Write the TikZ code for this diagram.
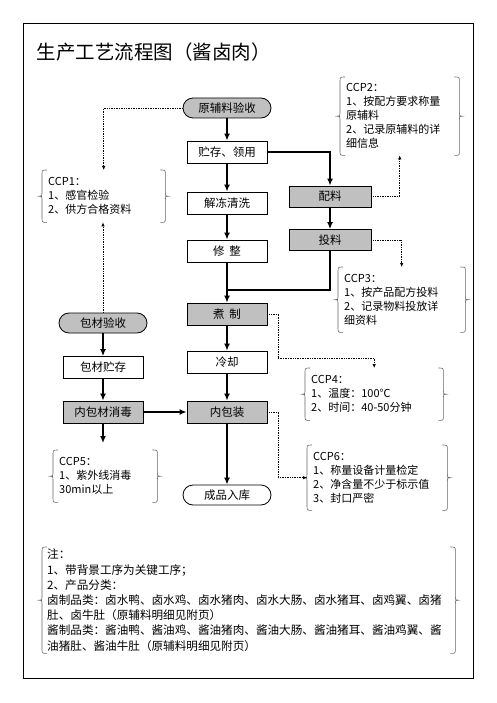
\documentclass[tikz,border=0pt]{standalone}
\usepackage{fontspec}
\setmainfont{Noto Sans CJK SC}
\usetikzlibrary{calc,arrows.meta}
\definecolor{keygray}{RGB}{192,192,192}

\begin{document}
\begin{tikzpicture}[x=1pt,y=-1pt]
	\tikzstyle{proc}=[draw,line width=0.8pt,minimum width=80pt,minimum height=22pt,inner sep=0pt,font=\fontsize{11.5}{12}\selectfont]
	\tikzstyle{key}=[proc,fill=keygray]
	\tikzstyle{term}=[proc,rounded corners=10pt,minimum width=88pt,minimum height=20pt]
	\tikzstyle{ccp}=[anchor=north west,align=left,inner xsep=6pt,inner ysep=0pt,font=\fontsize{11}{14}\selectfont]
	\tikzstyle{flow}=[line width=1.8pt,-{Latex[length=7pt,width=6pt]}]
	\tikzstyle{link}=[line width=0.7pt,densely dotted,-{Latex[length=4pt,width=3.5pt]}]
	\tikzstyle{brline}=[line width=0.6pt,draw=black!60]

	\useasboundingbox (0,0) rectangle (497,703);
	\draw[line width=0.8pt] (23,23) rectangle (473,678);
	\node[anchor=west,font=\fontsize{19.5}{20}\selectfont] (title) at (33,52) {生产工艺流程图（酱卤肉）};

	% main line
	\node[term,fill=keygray] (ylys) at (227,108) {原辅料验收};
	\node[proc] (zcly) at (227,152) {贮存、领用};
	\node[proc] (jdqx) at (227,203) {解冻清洗};
	\node[proc] (xz) at (227,251) {修\hspace{5pt}整};
	\node[key] (zz) at (227,314) {煮\hspace{5pt}制};
	\node[proc] (lq) at (227,362) {冷却};
	\node[key] (nbz) at (227,412) {内包装};
	\node[term] (cprk) at (227,495) {成品入库};
	% side line
	\node[key,minimum width=82pt,minimum height=21pt] (pl) at (330,196.5) {配料};
	\node[key,minimum width=82pt,minimum height=21pt] (tl) at (330,240) {投料};
	% packaging
	\node[term,fill=keygray] (bcys) at (103,323) {包材验收};
	\node[proc] (bczc) at (103,367.5) {包材贮存};
	\node[key] (bcxd) at (103,412) {内包材消毒};

	% control points
	\node[ccp,text width=111pt,minimum height=52pt] (ccp1) at (42,170) {CCP1：\\1、感官检验\\2、供方合格资料};
	\node[ccp,text width=107pt,minimum height=78pt] (ccp2) at (340,77) {CCP2：\\1、按配方要求称量\\原辅料\\2、记录原辅料的详\\细信息};
	\node[ccp,text width=115pt,minimum height=65pt] (ccp3) at (338,267) {CCP3：\\1、按产品配方投料\\2、记录物料投放详\\细资料};
	\node[ccp,text width=126pt,minimum height=52pt] (ccp4) at (305,368) {CCP4：\\1、温度：100℃\\2、时间：40-50分钟};
	\node[ccp,text width=92pt,minimum height=52pt] (ccp5) at (53,450) {CCP5：\\1、紫外线消毒\\30min以上};
	\node[ccp,text width=128pt,minimum height=65pt] (ccp6) at (307,445) {CCP6：\\1、称量设备计量检定\\2、净含量不少于标示值\\3、封口严密};
	\node[ccp,inner xsep=5pt,text width=403pt,minimum height=106pt,font=\fontsize{11.6}{15.2}\selectfont] (note) at (42,547) {注：\\1、带背景工序为关键工序；\\2、产品分类：\\卤制品类：卤水鸭、卤水鸡、卤水猪肉、卤水大肠、卤水猪耳、卤鸡翼、卤猪\\肚、卤牛肚（原辅料明细见附页）\\酱制品类：酱油鸭、酱油鸡、酱油猪肉、酱油大肠、酱油猪耳、酱油鸡翼、酱\\油猪肚、酱油牛肚（原辅料明细见附页）};

	% braces
	\foreach \bx in {ccp1,ccp2,ccp3,ccp4,ccp5,ccp6,note}
		\draw[brline] let \p1=(\bx.north west), \p2=(\bx.south east), \p3=(\bx.center) in
			(\x1+5pt,\y1) .. controls (\x1,\y1) .. (\x1,\y1-5pt) -- (\x1,\y3+3pt)
			.. controls (\x1,\y3) .. (\x1-3pt,\y3) .. controls (\x1,\y3) .. (\x1,\y3-3pt)
			-- (\x1,\y2+5pt) .. controls (\x1,\y2) .. (\x1+5pt,\y2)
			(\x2-5pt,\y1) .. controls (\x2,\y1) .. (\x2,\y1-5pt) -- (\x2,\y3+3pt)
			.. controls (\x2,\y3) .. (\x2+3pt,\y3) .. controls (\x2,\y3) .. (\x2,\y3-3pt)
			-- (\x2,\y2+5pt) .. controls (\x2,\y2) .. (\x2-5pt,\y2);

	% flow
	\draw[flow] (ylys) -- (zcly);
	\draw[flow] (zcly) -- (jdqx);
	\draw[flow] (jdqx) -- (xz);
	\draw[flow] (xz) -- (zz);
	\draw[flow] (zz) -- (lq);
	\draw[flow] (lq) -- (nbz);
	\draw[flow] (nbz) -- (cprk);
	\draw[flow] (zcly.east) -| (pl.north);
	\draw[flow] (pl) -- (tl);
	\coordinate (hui) at (227,290);
	\draw[line width=1.8pt] (tl.south) |- (hui);
	\draw[flow] (bcys) -- (bczc);
	\draw[flow] (bczc) -- (bcxd);
	\draw[flow] (bcxd) -- (nbz);
	\draw[flow,shorten >=7pt] (bcxd.south) -- (bcxd.south |- ccp5.north);

	% dotted links to the control points
	\draw[link] (ylys.west) -| (ccp1.north);
	\draw[link] (bcys.north) -- (bcys.north |- ccp1.south);
	\draw[link] (pl.east) -| (ccp2.south);
	\draw[link] (tl.east) -| (ccp3.north);
	\coordinate (c4) at ($(ccp4.north)+(0,-10)$);
	\draw[link] (zz.east) -- ++(11,0) |- (c4) -- (ccp4.north);
	\draw[link] (nbz.east) -- ++(11,0) |- (ccp6.west);
\end{tikzpicture}
\end{document}
